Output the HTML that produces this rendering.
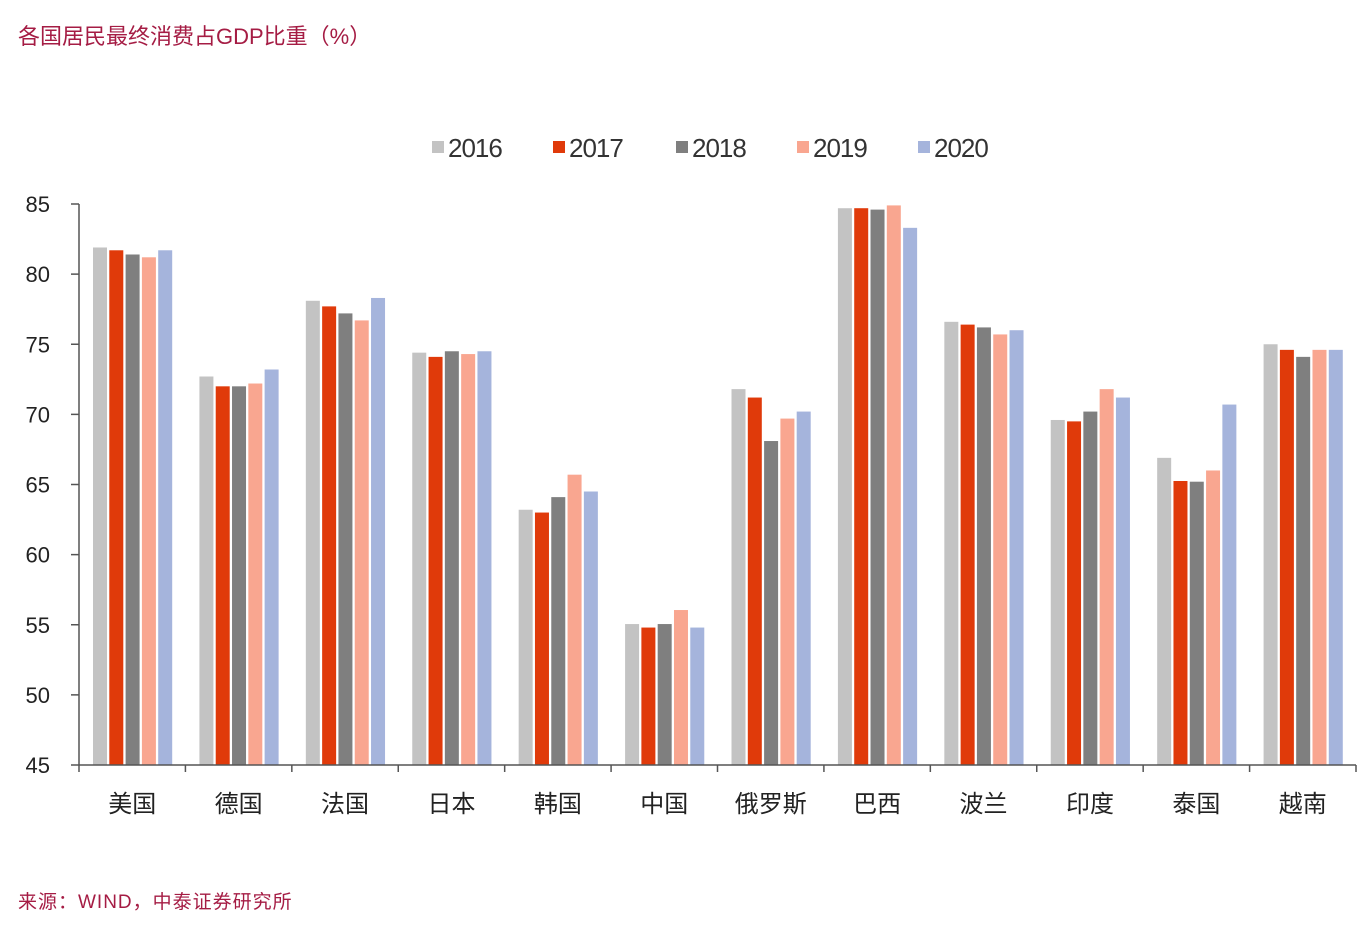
<!DOCTYPE html>
<html><head><meta charset="utf-8"><style>
body{margin:0;width:1366px;height:942px;background:#fff;overflow:hidden;font-family:"Liberation Sans","Noto Sans CJK SC",sans-serif;}
.t{position:absolute;color:#a51c44;font-size:22px;}
</style></head><body>
<div class="t" style="left:18px;top:19px;">各国居民最终消费占GDP比重（%）</div>
<div class="t" style="left:18px;top:887px;font-size:19px;letter-spacing:1px;">来源：WIND，中泰证券研究所</div>
<svg id="c" width="1366" height="942" style="position:absolute;left:0;top:0"></svg>
<script>
const categories=["美国","德国","法国","日本","韩国","中国","俄罗斯","巴西","波兰","印度","泰国","越南"];
const years=["2016","2017","2018","2019","2020"];
const v2016=[81.9,72.7,78.1,74.4,63.2,55.05,71.8,84.7,76.6,69.6,66.9,75.0];
const v2017=[81.7,72.0,77.7,74.1,63.0,54.8,71.2,84.7,76.4,69.5,65.25,74.6];
const v2018=[81.4,72.0,77.2,74.5,64.1,55.05,68.1,84.6,76.2,70.2,65.2,74.1];
const v2019=[81.2,72.2,76.7,74.3,65.7,56.05,69.7,84.9,75.7,71.8,66.0,74.6];
const v2020=[81.7,73.2,78.3,74.5,64.5,54.8,70.2,83.3,76.0,71.2,70.7,74.6];
const yTicks=[45,50,55,60,65,70,75,80,85];
const series=[v2016,v2017,v2018,v2019,v2020];
const colors=["#c3c3c3","#e03a0a","#7f7f7f","#f9a690","#a5b4dc"];
const svg=document.getElementById('c');const NS="http://www.w3.org/2000/svg";
function mk(t,a,p){const e=document.createElementNS(NS,t);for(const k in a)e.setAttribute(k,a[k]);(p||svg).appendChild(e);return e;}
const x0=79,x1=1356,yB=765,yT=204,ymin=45,ymax=85;
const y=v=>yB-(v-ymin)/(ymax-ymin)*(yB-yT);
const gw=(x1-x0)/categories.length;
const X=(i,s)=>x0+i*gw+14+s*16.3;
series.forEach((arr,s)=>arr.forEach((v,i)=>{
 const r=mk('rect',{x:X(i,s),y:y(v),width:14,height:yB-y(v),fill:colors[s]});
 
 
}));
const ax=mk('g',{});
mk('line',{x1:x0,y1:yT,x2:x0,y2:yB,stroke:'#555','stroke-width':1.5},ax);
yTicks.forEach(t=>{
 mk('line',{x1:71,y1:y(t),x2:x0,y2:y(t),stroke:'#555','stroke-width':1.5},ax);
 const tx=mk('text',{x:50,y:y(t)+8,'text-anchor':'end','font-size':22,fill:'#222'},ax);tx.textContent=t;
 
 
});
const xa=mk('g',{});
mk('line',{x1:x0,y1:yB,x2:x1,y2:yB,stroke:'#555','stroke-width':1.5},xa);
for(let i=0;i<=categories.length;i++)mk('line',{x1:x0+i*gw,y1:yB,x2:x0+i*gw,y2:772,stroke:'#555','stroke-width':1.5},xa);
categories.forEach((c,i)=>{
 const tx=mk('text',{x:x0+i*gw+gw/2,y:812,'text-anchor':'middle','font-size':24,fill:'#222'},xa);tx.textContent=c;
 
 
});
const lg=mk('g',{});
const lx=[432,553,676,797,918];
years.forEach((yr,s)=>{
 const e=mk('g',{},lg);
 
 
 mk('rect',{x:lx[s],y:141,width:12,height:12,fill:colors[s]},e);
 const t=mk('text',{x:lx[s]+16,y:157,'font-size':26,fill:'#333','letter-spacing':-1},e);t.textContent=yr;
});
</script>
</body></html>
